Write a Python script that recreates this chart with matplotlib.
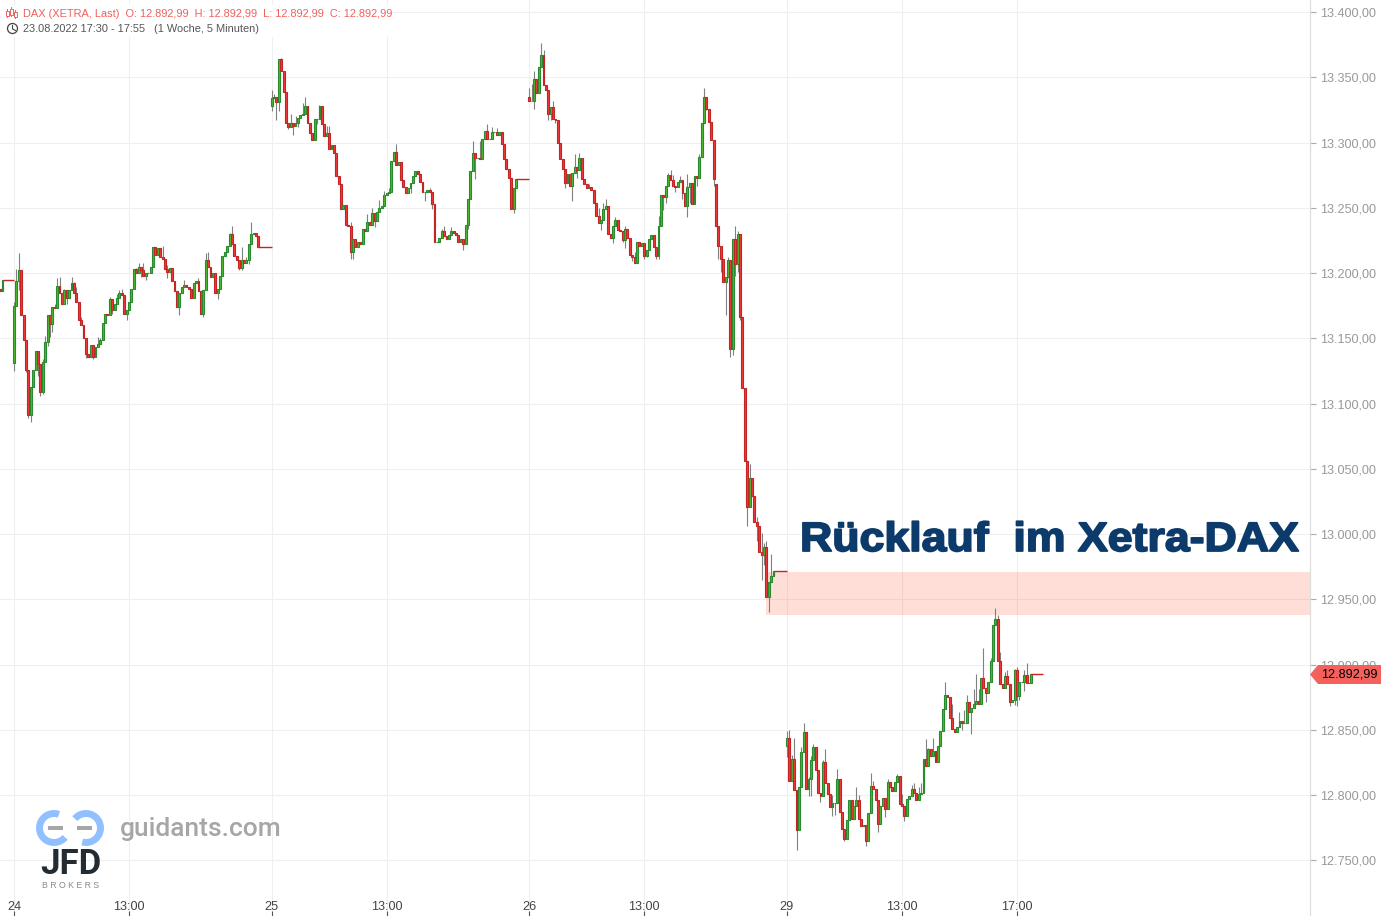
import numpy as np
import matplotlib
matplotlib.use('Agg')
import matplotlib.pyplot as plt
from matplotlib.patches import Rectangle, Polygon, Circle
from matplotlib.transforms import Affine2D
import matplotlib.patheffects as pe

plt.rcParams['font.family'] = ['Liberation Sans', 'DejaVu Sans']

# last bars of the session before the 24th
prev_opens = [13188, 13186]
prev_closes = [13186, 13195]

open_24 = 13131
closes_24 = [13175, 13194, 13202, 13168, 13149, 13126, 13091, 13113, 13126, 13140,
             13130, 13109, 13132, 13147, 13168, 13161, 13174, 13173, 13190, 13185,
             13176, 13187, 13181, 13187, 13192, 13185, 13178, 13164, 13160, 13150,
             13138, 13136, 13145, 13136, 13143, 13146, 13149, 13162, 13169, 13168,
             13180, 13172, 13176, 13181, 13185, 13183, 13169, 13172, 13178, 13188,
             13203, 13200, 13205, 13202, 13198, 13200, 13200, 13205, 13220, 13214,
             13219, 13212, 13211, 13203, 13201, 13204, 13194, 13186, 13174, 13185,
             13189, 13191, 13189, 13188, 13181, 13192, 13194, 13186, 13169, 13187,
             13210, 13205, 13197, 13200, 13185, 13188, 13198, 13213, 13216, 13221,
             13230, 13222, 13213, 13210, 13204, 13210, 13208, 13210, 13222, 13230,
             13231, 13228, 13220]
# wicks that stick out of the body, by bar number
highs_24 = {0: 13178, 1: 13203, 2: 13215, 12: 13134, 13: 13152, 17: 13176, 18: 13196, 19: 13197,
            21: 13188, 24: 13197, 25: 13193, 26: 13189, 28: 13166, 35: 13151, 36: 13150, 40: 13182,
            43: 13184, 44: 13187, 45: 13188, 51: 13204, 52: 13208, 54: 13208, 62: 13221, 64: 13206,
            71: 13195, 77: 13196, 80: 13215, 81: 13216, 90: 13231, 91: 13236, 95: 13220, 97: 13212,
            99: 13239}
lows_24 = {0: 13125, 2: 13187, 5: 13124, 6: 13089, 7: 13086, 10: 13121, 11: 13106, 12: 13107,
           14: 13144, 15: 13151, 16: 13155, 22: 13176, 30: 13135, 33: 13134, 34: 13136, 41: 13169,
           47: 13164, 53: 13197, 55: 13195, 64: 13196, 69: 13168, 79: 13166, 85: 13180, 86: 13193,
           94: 13202, 95: 13202, 98: 13207}

open_25 = 13328
closes_25 = [13334, 13335, 13331, 13364, 13355, 13339, 13315, 13312, 13315, 13313,
             13315, 13319, 13321, 13322, 13328, 13315, 13307, 13302, 13318, 13318,
             13328, 13314, 13305, 13307, 13295, 13298, 13292, 13274, 13268, 13249,
             13252, 13237, 13236, 13216, 13226, 13220, 13224, 13222, 13234, 13232,
             13239, 13237, 13246, 13240, 13247, 13250, 13251, 13260, 13261, 13262,
             13286, 13293, 13283, 13285, 13271, 13266, 13261, 13265, 13269, 13274,
             13278, 13276, 13270, 13262, 13262, 13264, 13262, 13253, 13224, 13224,
             13227, 13232, 13228, 13226, 13229, 13232, 13231, 13229, 13224, 13226,
             13222, 13237, 13257, 13278, 13292, 13288, 13288, 13287, 13303, 13309,
             13303, 13303, 13308, 13308, 13306, 13308, 13299, 13287, 13280, 13273,
             13249, 13265, 13272]
highs_25 = {0: 13340, 1: 13337, 4: 13365, 8: 13322, 10: 13320, 13: 13330, 14: 13335, 20: 13329,
            23: 13313, 24: 13313, 33: 13239, 40: 13245, 42: 13250, 45: 13256, 47: 13263, 49: 13265,
            52: 13299, 61: 13278, 66: 13265, 71: 13234, 72: 13236, 75: 13235, 84: 13301, 87: 13301,
            90: 13314, 92: 13312, 94: 13311}
lows_25 = {0: 13324, 2: 13317, 3: 13324, 7: 13310, 9: 13306, 11: 13312, 19: 13314, 33: 13211,
           34: 13211, 43: 13235, 58: 13261, 64: 13255, 67: 13249, 80: 13218, 82: 13234, 85: 13272,
           101: 13246}

open_26 = 13335
closes_26 = [13332, 13332, 13349, 13338, 13358, 13367, 13344, 13340, 13322, 13327,
             13318, 13317, 13300, 13287, 13280, 13269, 13276, 13267, 13277, 13281,
             13279, 13288, 13272, 13268, 13265, 13266, 13264, 13254, 13244, 13238,
             13241, 13249, 13251, 13230, 13227, 13236, 13241, 13233, 13232, 13225,
             13234, 13227, 13214, 13212, 13208, 13224, 13221, 13223, 13213, 13218,
             13226, 13229, 13220, 13213, 13236, 13260, 13258, 13267, 13275, 13271,
             13267, 13266, 13270, 13271, 13261, 13251, 13266, 13269, 13253, 13274,
             13273, 13289, 13315, 13335, 13326, 13316, 13302, 13272, 13236, 13221,
             13211, 13193, 13197, 13210, 13142, 13226, 13207, 13230, 13166, 13112,
             13056, 13021, 13043, 13029, 13009, 13006, 12986, 12984, 12990, 12952,
             12963, 12968, 12972]
gap_opens_26 = {78: 13268}
highs_26 = {0: 13342, 1: 13345, 2: 13355, 5: 13376, 6: 13371, 10: 13332, 19: 13291, 21: 13292,
            25: 13268, 29: 13250, 31: 13254, 32: 13257, 36: 13243, 40: 13236, 44: 13216, 54: 13244,
            58: 13277, 59: 13279, 60: 13275, 63: 13274, 66: 13276, 71: 13291, 73: 13342, 83: 13212,
            86: 13236, 87: 13232, 92: 13054, 95: 13013, 97: 13001, 98: 12993, 99: 12995, 101: 12985}
lows_26 = {2: 13326, 8: 13317, 9: 13317, 11: 13315, 15: 13265, 18: 13255, 20: 13273, 30: 13233,
           35: 13223, 39: 13224, 40: 13219, 43: 13209, 48: 13211, 49: 13212, 53: 13211, 54: 13211,
           56: 13248, 57: 13254, 61: 13262, 64: 13257, 66: 13243, 67: 13254, 70: 13267, 74: 13325,
           77: 13267, 79: 13211, 80: 13201, 82: 13168, 84: 13136, 85: 13137, 86: 13198, 87: 13201,
           88: 13164, 91: 13006, 95: 12995, 97: 12965, 98: 12976, 100: 12940}

open_29 = 12838
closes_29 = [12844, 12811, 12828, 12804, 12773, 12806, 12833, 12848, 12805, 12812,
             12827, 12837, 12819, 12802, 12799, 12825, 12809, 12801, 12791, 12794,
             12794, 12812, 12787, 12774, 12766, 12781, 12796, 12782, 12792, 12796,
             12782, 12776, 12777, 12765, 12786, 12807, 12805, 12796, 12778, 12792,
             12798, 12789, 12810, 12806, 12803, 12810, 12815, 12793, 12792, 12784,
             12797, 12799, 12805, 12802, 12796, 12801, 12802, 12828, 12822, 12835,
             12830, 12834, 12825, 12838, 12849, 12866, 12877, 12875, 12859, 12851,
             12848, 12852, 12857, 12855, 12855, 12871, 12864, 12867, 12870, 12872,
             12870, 12890, 12882, 12878, 12887, 12903, 12930, 12935, 12903, 12885,
             12882, 12891, 12885, 12871, 12873, 12896, 12876, 12887, 12887, 12892,
             12886, 12886, 12893]
highs_29 = {0: 12849, 1: 12850, 2: 12831, 3: 12844, 6: 12837, 7: 12855, 9: 12814, 10: 12830,
            11: 12839, 15: 12827, 16: 12835, 18: 12799, 19: 12800, 21: 12820, 29: 12806, 30: 12800,
            35: 12817, 36: 12811, 42: 12812, 46: 12816, 48: 12801, 52: 12808, 53: 12809, 55: 12806,
            56: 12809, 58: 12843, 59: 12836, 61: 12844, 66: 12887, 69: 12870, 72: 12864, 74: 12865,
            75: 12877, 78: 12881, 79: 12893, 80: 12881, 82: 12913, 85: 12905, 87: 12943, 88: 12938,
            89: 12910, 91: 12894, 92: 12896, 95: 12897, 96: 12898, 99: 12896, 100: 12901}
lows_29 = {0: 12829, 4: 12758, 9: 12799, 10: 12799, 14: 12795, 19: 12784, 20: 12785, 24: 12765,
           33: 12761, 38: 12772, 41: 12783, 49: 12780, 73: 12850, 77: 12847, 83: 12871, 93: 12868,
           95: 12869, 96: 12868, 97: 12873, 99: 12880}

day_starts = [0, 107.5, 215, 322.6]      # in 5 minute bars
zone_low = 12938
zone_high = 12971
zone_start = 313.8
last_end = 429.5

price_ticks = np.arange(12750, 13401, 50)
price_labels = ['12.750,00', '12.800,00', '12.850,00', '12.900,00', '12.950,00', '13.000,00',
                '13.050,00', '13.100,00', '13.150,00', '13.200,00', '13.250,00', '13.300,00',
                '13.350,00', '13.400,00']
time_ticks = [0, 48, 107.5, 155.5, 215, 263, 322.6, 370.6, 418.6]
time_labels = ['24', '13:00', '25', '13:00', '26', '13:00', '29', '13:00', '17:00']

RED = '#ee3a3a'
RED_EDGE = '#c42424'
GREEN = '#4fb830'
GREEN_EDGE = '#2a8a2e'
WICK = '#808080'
GRID = '#efefef'
TITLE = '#0b3a6b'


class StretchX(pe.AbstractPathEffect):
    # the title in the picture is wider than the plain bold face
    def __init__(self, sx, lw):
        super().__init__()
        self.sx = sx
        self.lw = lw

    def draw_path(self, renderer, gc, tpath, affine, rgbFace=None):
        gc0 = renderer.new_gc()
        gc0.copy_properties(gc)
        gc0.set_linewidth(self.lw)
        gc0.set_foreground(rgbFace)
        renderer.draw_path(gc0, tpath, Affine2D().scale(self.sx, 1) + affine, rgbFace)
        gc0.restore()


def draw_day(ax, start, first_open, closes, highs, lows, next_start, gaps={}):
    opens = [first_open] + closes[:-1]
    for i, g in gaps.items():
        opens[i] = g
    x = start + np.arange(len(closes))
    o = np.array(opens, dtype=float)
    c = np.array(closes, dtype=float)
    hi = np.maximum(o, c)
    lo = np.minimum(o, c)
    for i, v in highs.items():
        hi[i] = max(hi[i], v)
    for i, v in lows.items():
        lo[i] = min(lo[i], v)
    ax.vlines(x, lo, hi, color=WICK, lw=0.8, zorder=3)
    up = c >= o
    ax.bar(x, np.abs(c - o), bottom=np.minimum(o, c), width=0.8,
           color=[GREEN if u else RED for u in up],
           edgecolor=[GREEN_EDGE if u else RED_EDGE for u in up], lw=0.8, zorder=4)
    ax.hlines(closes[-1], x[-1], next_start, color=RED_EDGE, lw=1.0, zorder=4)


fig = plt.figure(figsize=(13.81, 9.16), dpi=100)
ax = fig.add_axes([0, 0, 1310 / 1381, 1])
ax.set_xlim(-14 / 2.396, (1310 - 14) / 2.396)
ax.set_ylim(13400 - 904 / 1.3052, 13400 + 12 / 1.3052)

ax.grid(True, color=GRID, lw=0.8, zorder=0)
ax.set_axisbelow(True)
for s in ['top', 'left', 'bottom']:
    ax.spines[s].set_visible(False)
ax.spines['right'].set_color('#dddddd')
ax.spines['right'].set_linewidth(0.9)

ax.yaxis.tick_right()
ax.set_yticks(price_ticks)
ax.set_yticklabels(price_labels)
ax.tick_params(axis='y', direction='out', length=4, width=0.8, color='#aaaaaa', pad=3,
               labelsize=9.1, labelcolor='#999999')
ax.set_xticks(time_ticks)
ax.set_xticklabels(time_labels)
ax.tick_params(axis='x', direction='in', length=3.5, width=0.8, color='#555555', pad=-10.5,
               labelsize=9.1, labelcolor='#444444')

# bars before the first labelled day
ax.bar([-5.4, -4.7], np.abs(np.array(prev_closes) - np.array(prev_opens)), bottom=prev_closes[0],
       width=0.6, color=[RED, GREEN], edgecolor=[RED_EDGE, GREEN_EDGE], lw=0.8, zorder=4)
ax.hlines(prev_closes[-1], -4.7, day_starts[0], color=RED_EDGE, lw=1.0, zorder=4)

draw_day(ax, day_starts[0], open_24, closes_24, highs_24, lows_24, day_starts[1])
draw_day(ax, day_starts[1], open_25, closes_25, highs_25, lows_25, day_starts[2])
draw_day(ax, day_starts[2], open_26, closes_26, highs_26, lows_26, day_starts[3], gap_opens_26)
draw_day(ax, day_starts[3], open_29, closes_29, highs_29, lows_29, last_end)

ax.add_patch(Rectangle((zone_start, zone_low), ax.get_xlim()[1] - zone_start + 0.4, zone_high - zone_low,
                       facecolor='#ff5a3c', alpha=0.2, lw=0, zorder=2, clip_on=False))

# overlay in pixels for the header, price tag, title and logo
ov = fig.add_axes([0, 0, 1, 1], facecolor='none')
ov.set_xlim(0, 1381)
ov.set_ylim(916, 0)
ov.axis('off')

ov.add_patch(Rectangle((0, 5), 392, 32, facecolor='white', lw=0, zorder=1))
ov.text(23, 14, 'DAX (XETRA, Last)  O: 12.892,99  H: 12.892,99  L: 12.892,99  C: 12.892,99',
        color='#f0605c', fontsize=7.9, va='center', ha='left', zorder=3)
ov.text(23, 29.5, '23.08.2022 17:30 - 17:55   (1 Woche, 5 Minuten)', color='#555555',
        fontsize=7.9, va='center', ha='left', zorder=3)
# candle icon
for px, y0, y1 in [(7.5, 11, 16), (11.5, 9, 15), (15.5, 12, 17)]:
    ov.plot([px, px], [y0 - 2, y1 + 1], color='#f0605c', lw=0.7, zorder=3)
    ov.add_patch(Rectangle((px - 1.2, y0), 2.4, y1 - y0, facecolor='white', edgecolor='#f0605c', lw=0.7, zorder=3))
# clock icon
ov.add_patch(Circle((12.5, 28.5), 5, facecolor='white', edgecolor='#444444', lw=0.9, zorder=3))
ov.plot([12.5, 12.5, 15.5], [25.5, 29, 30.5], color='#444444', lw=0.8, zorder=3)

# price tag
ov.add_patch(Polygon([(1310, 674.5), (1318, 665), (1381, 665), (1381, 684), (1318, 684)],
                     closed=True, facecolor='#f4605c', lw=0, zorder=3))
ov.text(1321, 674.5, '12.892,99', color='black', fontsize=9.1, va='center', ha='left', zorder=4)

ov.text(800, 540, 'Rücklauf  im Xetra-DAX', color=TITLE, fontsize=29.5, fontweight='bold',
        ha='left', va='center', zorder=5, path_effects=[StretchX(1.09, 1.3)])

# logo
t = np.radians(np.linspace(70, 320, 60))
ov.plot(54 + 14.5 * np.cos(t), 828 - 14.5 * np.sin(t), color='#90c0ff', lw=5, solid_capstyle='butt', zorder=3)
t = np.radians(np.linspace(140, -105, 60))
ov.plot(86 + 14.5 * np.cos(t), 828 - 14.5 * np.sin(t), color='#90c0ff', lw=5, solid_capstyle='butt', zorder=3)
ov.add_patch(Rectangle((48, 825.5), 15, 4.5, facecolor='#a6a6a6', lw=0, zorder=3))
ov.add_patch(Rectangle((77, 825.5), 15, 4.5, facecolor='#a6a6a6', lw=0, zorder=3))
ov.text(70.5, 865, 'JFD', color='#232b33', fontsize=25, fontweight='bold', family=['Roboto', 'DejaVu Sans'],
        ha='center', va='center', zorder=3)
ov.text(70.5, 886, 'B R O K E R S', color='#8a8a8a', fontsize=6.3, ha='center', va='center', zorder=3)
ov.text(120, 829, 'guidants.com', color='#a6a6a6', fontsize=19, fontweight='medium',
        family=['Roboto', 'DejaVu Sans'], ha='left', va='center', zorder=3)

fig.savefig('out.png', dpi=100)
